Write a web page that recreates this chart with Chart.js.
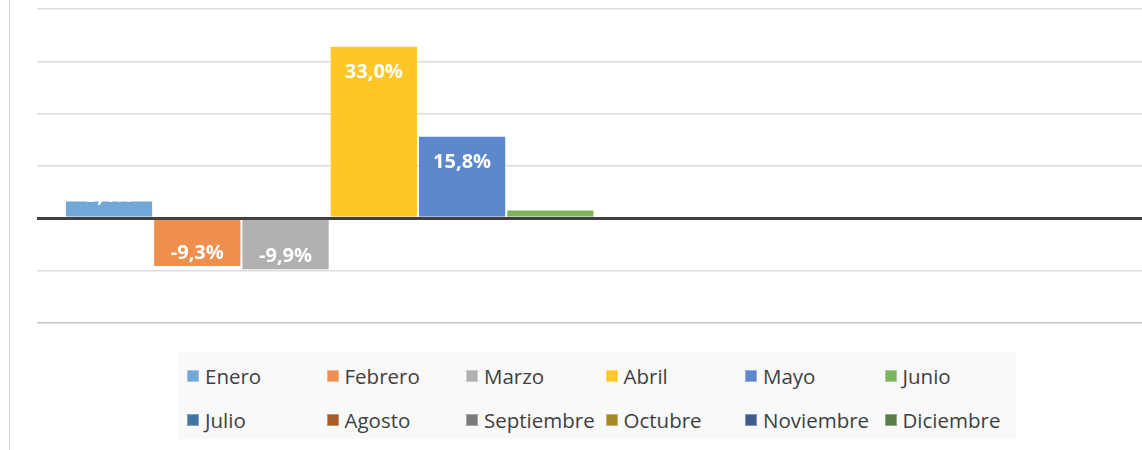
<!DOCTYPE html>
<html lang="es">
<head>
<meta charset="UTF-8">
<title>Variación mensual</title>
<script src="https://cdn.jsdelivr.net/npm/chart.js"></script>
<style>
  html, body { margin: 0; padding: 0; background: #fff; }
  #wrap { position: relative; width: 1142px; height: 450px; overflow: hidden; }
  #edge { position: absolute; left: 9px; top: 0; width: 1px; height: 450px; background: #d4d4d4; }
  #chartBox { position: absolute; left: 0; top: 0; width: 1152px; height: 450px; }
  #legend {
    position: absolute; left: 178px; top: 352px; width: 838px; height: 87px;
    background: #f9f9f9; box-sizing: border-box; padding: 2px 0 0 9px;
    display: grid; grid-template-columns: repeat(6, 139.5px); grid-auto-rows: 44px;
    font-family: "Open Sans", sans-serif; font-size: 20.5px; color: #404040;
  }
  .item { display: flex; align-items: center; white-space: nowrap; }
  .sq { width: 12px; height: 12px; margin-right: 6px; flex: none; box-sizing: border-box; border: 1px solid rgba(255,255,255,0.35); }
</style>
</head>
<body>
<div id="wrap">
  <div id="edge"></div>
  <div id="chartBox"><canvas id="myChart" width="1152" height="450"></canvas></div>
  <div id="legend"></div>
</div>
<script>
// meses y variación (%)
const months = ["Enero","Febrero","Marzo","Abril","Mayo","Junio",
                "Julio","Agosto","Septiembre","Octubre","Noviembre","Diciembre"];
const values = [3.4, -9.3, -9.9, 33.0, 15.8, 1.7, null, null, null, null, null, null];
const colors = ["#70a8da","#ef8f4e","#b0b0b0","#ffc726","#5e88cc","#7db55b",
                "#3f74a3","#a85a28","#7c7c7c","#a78a22","#3f5a8b","#5a7d47"];
const yTicks = [-20, -10, 0, 10, 20, 30, 40];

// leyenda
const legend = document.getElementById('legend');
for (let i = 0; i < months.length; i++) {
  const it = document.createElement('div');
  it.className = 'item';
  it.innerHTML = '<span class="sq" style="background:' + colors[i] + '"></span>' + months[i];
  legend.appendChild(it);
}

const datasets = [];
for (let i = 0; i < months.length; i++) {
  datasets.push({
    label: months[i],
    data: [values[i]],
    backgroundColor: colors[i],
    borderColor: 'rgba(255,255,255,0.3)',
    borderWidth: 1,
    categoryPercentage: 0.95,
    barPercentage: 1
  });
}

// etiquetas de valor en blanco
const valueLabels = {
  id: 'valueLabels',
  afterDatasetsDraw(chart) {
    const ctx = chart.ctx;
    ctx.save();
    ctx.fillStyle = '#ffffff';
    ctx.font = 'bold 20px "Open Sans", sans-serif';
    ctx.textAlign = 'center';
    ctx.textBaseline = 'middle';
    chart.data.datasets.forEach(function(ds, i) {
      const v = ds.data[0];
      if (v === null) return;
      const bar = chart.getDatasetMeta(i).data[0];
      const h = Math.abs(bar.base - bar.y);
      let y;
      if (v >= 0) {
        if (h > 40) y = bar.y + 27;
        else if (h > 12) y = bar.y - 4;
        else y = bar.y - 14;
      } else {
        y = bar.y - 14;
      }
      const txt = v.toFixed(1).replace('.', ',') + '%';
      ctx.fillText(txt, bar.x, y);
    });
    ctx.restore();
  }
};

new Chart(document.getElementById('myChart'), {
  type: 'bar',
  data: { labels: [''], datasets: datasets },
  options: {
    responsive: false,
    animation: false,
    layout: { padding: { left: 37, right: 0, top: 9, bottom: 127 } },
    plugins: { legend: { display: false }, tooltip: { enabled: false } },
    scales: {
      x: { display: false },
      y: {
        min: yTicks[0],
        max: yTicks[yTicks.length - 1],
        afterBuildTicks(scale) { scale.ticks = yTicks.map(v => ({ value: v })); },
        ticks: { display: false },
        border: { display: false },
        grid: {
          drawTicks: false,
          color: c => c.tick.value === 0 ? '#404040' : (c.tick.value === -20 ? '#c4c4c4' : '#dcdcdc'),
          lineWidth: c => c.tick.value === 0 ? 3 : 1.5
        }
      }
    }
  },
  plugins: [valueLabels]
});
</script>
</body>
</html>
